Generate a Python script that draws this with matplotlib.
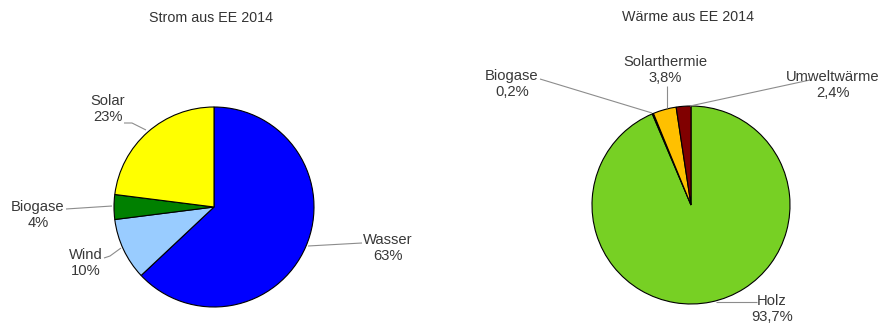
import matplotlib

matplotlib.use("Agg")
import matplotlib.pyplot as plt

plt.rcParams["font.family"] = ["Liberation Sans", "DejaVu Sans"]

# electricity from renewables, 2014 (share in %)
strom_labels = ["Wasser", "Wind", "Biogase", "Solar"]
strom_values = [63, 10, 4, 23]
strom_colors = ["#0000ff", "#99ccff", "#008000", "#ffff00"]

# heat from renewables, 2014 (share in %)
waerme_labels = ["Holz", "Biogase", "Solarthermie", "Umweltwärme"]
waerme_values = [93.7, 0.2, 3.8, 2.4]
waerme_colors = ["#77d024", "#202020", "#ffc000", "#800000"]

W, H = 881, 324
TXT = "#383838"
LEAD = "#8c8c8c"


def fmt(v):
    s = f"{v:g}%"
    return s.replace(".", ",")


def px(x, y):
    # pixel position (origin top-left) -> data coords
    return x, H - y


def draw_pie(ax, values, colors, cx, cy, r):
    ax.pie(values, colors=colors, startangle=90, counterclock=False,
           center=px(cx, cy), radius=r,
           wedgeprops=dict(edgecolor="black", linewidth=0.8),
           frame=True)


def label(ax, name, value, tx, ty, line):
    ax.text(*px(tx, ty), f"{name}\n{fmt(value)}", ha="center", va="center",
            fontsize=10.6, color=TXT, linespacing=1.1)
    xs = [p[0] for p in line]
    ys = [H - p[1] for p in line]
    ax.plot(xs, ys, color=LEAD, lw=0.8, solid_capstyle="butt")


fig = plt.figure(figsize=(W / 100, H / 100), dpi=100)
ax = fig.add_axes([0, 0, 1, 1])

draw_pie(ax, strom_values, strom_colors, 214, 207, 100)
draw_pie(ax, waerme_values, waerme_colors, 691, 205, 99)

ax.text(*px(211, 18), "Strom aus EE 2014", ha="center", va="center",
        fontsize=10.3, color="#333333")
ax.text(*px(688, 17), "Wärme aus EE 2014", ha="center", va="center",
        fontsize=10.3, color="#333333")

# left chart labels
label(ax, strom_labels[0], strom_values[0], 388, 248,
      [(308, 246), (362, 243)])
label(ax, strom_labels[1], strom_values[1], 86, 263,
      [(104, 258), (110, 256), (121, 248)])
label(ax, strom_labels[2], strom_values[2], 38, 215,
      [(66, 209), (112, 206)])
label(ax, strom_labels[3], strom_values[3], 108, 109,
      [(124, 123), (132, 123), (146, 130)])

# right chart labels
label(ax, waerme_labels[0], waerme_values[0], 772, 309,
      [(716, 302), (757, 302)])
label(ax, waerme_labels[1], waerme_values[1], 512, 84,
      [(540, 79), (652, 113)])
label(ax, waerme_labels[2], waerme_values[2], 665, 70,
      [(667, 86), (667, 108)])
label(ax, waerme_labels[3], waerme_values[3], 833, 85,
      [(810, 80), (690, 106)])

ax.set_xlim(0, W)
ax.set_ylim(0, H)
ax.set_aspect("equal")
ax.axis("off")

fig.savefig("out.png", dpi=100, facecolor="white")
